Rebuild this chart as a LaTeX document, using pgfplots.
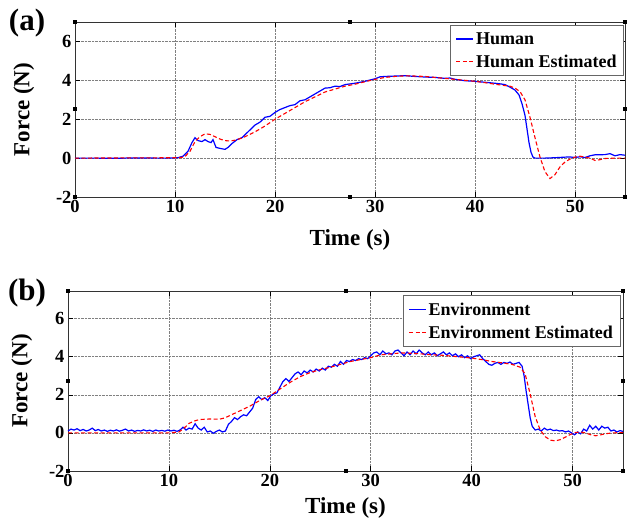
\documentclass[border=0pt]{standalone}
\usepackage{fontspec}
\setmainfont{Liberation Serif}
\usepackage{pgfplots}
\pgfplotsset{compat=1.18}
\pgfplotstableread{
t v
0 0
2 0.0
4 -0.01
6 0.01
8 0
9.5 0
10.3 0.02
10.8 0.1
11.3 0.35
11.7 0.8
12 1.05
12.3 0.9
12.7 0.85
13 0.95
13.3 0.85
13.6 0.8
13.8 0.95
14.1 0.55
14.5 0.5
15 0.45
15.3 0.55
15.7 0.75
16.2 0.95
16.7 1.05
17.2 1.3
17.6 1.5
18 1.7
18.5 1.85
19 2.1
19.5 2.15
20 2.35
20.5 2.5
21 2.6
21.5 2.7
22 2.75
22.5 2.95
23 3.0
23.5 3.15
24 3.3
24.5 3.45
25 3.6
25.5 3.62
26 3.7
26.5 3.68
27 3.78
28 3.85
29 3.95
30 4.08
30.5 4.18
31 4.2
32 4.22
33 4.24
34 4.2
35 4.17
36 4.15
37 4.1
37.5 4.12
38 4.05
39 3.98
40 3.95
41 3.9
42 3.85
42.5 3.82
43 3.78
43.5 3.65
44 3.5
44.4 3.25
44.7 2.8
45 2.2
45.2 1.5
45.4 0.8
45.6 0.3
45.8 0.05
46 0
47 0
48 0.02
49 0.05
49.5 0.06
50 0.03
50.5 0.07
51 0.03
51.5 0.12
52 0.17
53 0.18
53.5 0.23
54 0.12
54.5 0.18
55 0.15
}\human
\pgfplotstableread{
t v
0 0
10.5 0.02
11 0.08
11.5 0.35
12 0.85
12.5 1.1
13 1.25
13.5 1.22
14 1.1
14.5 0.98
15 0.9
15.5 0.88
16 0.92
16.5 1.0
17 1.1
18 1.35
19 1.65
20 2.0
21 2.3
22 2.6
23 2.9
24 3.15
25 3.4
26 3.55
27 3.7
28 3.8
29 3.93
30 4.05
31 4.15
32 4.2
33 4.23
34 4.22
35 4.2
36 4.15
37 4.1
38 4.05
39 4.0
40 3.95
41 3.88
42 3.8
43 3.73
43.5 3.7
44 3.6
44.5 3.42
45 3.0
45.5 2.1
46 1.05
46.5 0.05
47 -0.7
47.5 -1.05
48 -0.85
48.5 -0.45
49 -0.2
49.5 -0.05
50 0.05
50.5 0.1
51 0.05
51.5 0
52 -0.12
52.5 -0.08
53 -0.02
54 0
55 0
}\humanest
\pgfplotstableread{
t v
0 0.1
0.3 0.2
0.6 0.15
0.9 0.22
1.2 0.12
1.5 0.18
1.8 0.1
2.1 0.15
2.4 0.25
2.7 0.12
3 0.18
3.3 0.1
3.6 0.15
3.9 0.08
4.2 0.14
4.5 0.1
4.8 0.16
5.1 0.09
5.4 0.14
5.7 0.2
6 0.1
6.3 0.15
6.6 0.08
6.9 0.13
7.2 0.1
7.5 0.16
7.8 0.1
8.1 0.14
8.4 0.08
8.7 0.15
9 0.1
9.3 0.13
9.6 0.09
9.9 0.15
10.2 0.1
10.5 0.14
10.8 0.08
11.1 0.15
11.4 0.3
11.7 0.15
12 0.25
12.3 0.2
12.6 0.48
12.9 0.25
13.2 0.15
13.5 0.3
13.8 0.05
14.1 0.1
14.4 -0.02
14.7 0.08
15 0.15
15.3 0.05
15.6 0.1
15.9 0.45
16.2 0.6
16.5 0.8
16.8 0.7
17.1 0.85
17.4 0.95
17.7 0.9
18 1.1
18.3 1.3
18.6 1.75
18.9 1.9
19.2 1.75
19.5 1.85
19.8 1.7
20.1 1.95
20.4 2.05
20.7 2.1
21 2.4
21.3 2.7
21.6 2.85
21.9 2.7
22.2 2.9
22.5 3.1
22.8 3.2
23.1 3.05
23.4 3.25
23.7 3.15
24 3.3
24.3 3.2
24.6 3.35
24.9 3.25
25.2 3.4
25.5 3.3
25.8 3.5
26.1 3.45
26.4 3.6
26.7 3.5
27 3.75
27.3 3.6
27.6 3.8
27.9 3.75
28.2 3.85
28.5 3.8
28.8 3.9
29.1 3.85
29.4 3.95
29.7 3.9
30 4.05
30.3 4.2
30.6 4.25
30.9 4.1
31.2 4.3
31.5 4.15
31.8 4.2
32.1 4.1
32.4 4.3
32.7 4.35
33 4.2
33.3 4.05
33.6 4.25
33.9 4.1
34.2 4.3
34.5 4.15
34.8 4.35
35.1 4.2
35.4 4.1
35.7 4.25
36 4.1
36.3 4.2
36.6 4.05
36.9 4.15
37.2 4.25
37.5 4.1
37.8 4.2
38.1 4.05
38.4 4.15
38.7 4.0
39 4.1
39.3 3.95
39.6 4.05
39.9 3.9
40.2 4.0
40.5 4.05
40.8 4.1
41.1 3.9
41.4 3.75
41.7 3.6
42 3.55
42.3 3.65
42.6 3.7
42.9 3.6
43.2 3.7
43.5 3.65
43.8 3.72
44.1 3.6
44.4 3.65
44.7 3.7
45 3.5
45.2 3.0
45.4 2.2
45.6 1.5
45.8 0.8
46 0.35
46.3 0.15
46.6 0.2
46.9 0.1
47.2 0.25
47.5 0.15
47.8 0.2
48.1 0.12
48.4 0.15
48.7 0.1
49 0.12
49.3 0.05
49.6 0.1
49.9 0.0
50.2 -0.1
50.5 0.05
50.8 -0.05
51.1 0.2
51.4 0.1
51.7 0.4
52 0.2
52.3 0.35
52.6 0.15
52.9 0.35
53.2 0.25
53.5 0.3
53.8 0.1
54.1 0.15
54.4 0.05
54.7 0.12
55 0.08
}\env
\pgfplotstableread{
t v
0 0
10 0
11 0.05
11.5 0.25
12 0.5
12.5 0.62
13 0.7
14 0.73
15 0.72
15.5 0.78
16 0.9
17 1.15
18 1.4
19 1.7
20 1.95
21 2.3
22 2.65
23 2.95
24 3.17
25 3.32
26 3.45
27 3.6
28 3.75
29 3.85
30 3.95
31 4.1
32 4.15
33 4.2
34 4.18
35 4.15
36 4.1
37 4.08
38 4.03
39 3.98
40 3.93
41 3.85
42 3.75
43 3.68
44 3.6
44.8 3.45
45.3 3.1
45.8 2.05
46.3 0.85
46.8 0.15
47.3 -0.2
47.8 -0.38
48.3 -0.42
48.8 -0.35
49.3 -0.22
49.8 -0.08
50.3 0.02
50.8 0.05
51.3 0.0
51.8 -0.1
52.3 -0.15
52.8 -0.1
53.3 -0.04
54 0
55 0.02
}\envest
\pgfplotsset{
  mystyle/.style={
    scale only axis, clip=false,
    xmin=0, xmax=55, ymin=-2,
    xtick={0,10,...,50}, ytick={-2,0,...,6},
    grid=major,
    major grid style={densely dotted, black!50, line width=0.6pt},
    tick align=inside, major tick length=5pt,
    tick style={black, line width=0.6pt},
    axis line style={black!80, line width=0.8pt},
    tick label style={font=\fontsize{18.5}{20}\selectfont\bfseries},
    /pgf/number format/assume math mode=true,
    label style={font=\fontsize{23}{26}\selectfont\bfseries},
    legend style={draw=black!60, fill=white, line width=0.7pt,
      font=\fontsize{18}{21}\selectfont\bfseries, anchor=north east,
      inner sep=5pt, row sep=5pt},
    legend cell align=left,
  },
  hum/.style={blue, line width=1.2pt},
  est/.style={red, line width=1.1pt, dash pattern=on 4pt off 2.5pt},
}
\newcommand{\handles}{%
  \fill[black] (rel axis cs:0,0) +(-2pt,-2pt) rectangle +(2pt,2pt);
  \fill[black] (rel axis cs:0,0.5) +(-2pt,-2pt) rectangle +(2pt,2pt);
  \fill[black] (rel axis cs:0,1) +(-2pt,-2pt) rectangle +(2pt,2pt);
  \fill[black] (rel axis cs:0.5,0) +(-2pt,-2pt) rectangle +(2pt,2pt);
  \fill[black] (rel axis cs:0.5,1) +(-2pt,-2pt) rectangle +(2pt,2pt);
  \fill[black] (rel axis cs:1,0) +(-2pt,-2pt) rectangle +(2pt,2pt);
  \fill[black] (rel axis cs:1,0.5) +(-2pt,-2pt) rectangle +(2pt,2pt);
  \fill[black] (rel axis cs:1,1) +(-2pt,-2pt) rectangle +(2pt,2pt);
}
\begin{document}
\begin{tikzpicture}[x=1pt,y=1pt]
\useasboundingbox (0,0) rectangle (629,528);
\begin{axis}[mystyle, at={(75pt,331pt)}, anchor=south west,
  width=550pt, height=175pt, ymax=7,
  xlabel={Time (s)}, ylabel={Force (N)},
  xlabel style={at={(axis description cs:0.5,-0.245)}, anchor=center},
  ylabel style={at={(axis description cs:-0.093,0.5)}, anchor=center},
  legend style={at={(rel axis cs:0.998,0.983)}}]
\addplot[hum] table[x=t,y=v] {\human};
\addlegendentry{Human}
\addplot[est] table[x=t,y=v] {\humanest};
\addlegendentry{Human Estimated}
\handles
\end{axis}
\begin{axis}[mystyle, at={(68pt,57pt)}, anchor=south west,
  width=555pt, height=180pt, ymax=7.45,
  xlabel={Time (s)}, ylabel={Force (N)},
  xlabel style={at={(axis description cs:0.5,-0.205)}, anchor=center},
  ylabel style={at={(axis description cs:-0.083,0.5)}, anchor=center},
  legend style={at={(rel axis cs:0.995,0.975)}}]
\addplot[hum] table[x=t,y=v] {\env};
\addlegendentry{Environment}
\addplot[est] table[x=t,y=v] {\envest};
\addlegendentry{Environment Estimated}
\handles
\end{axis}
\node[font=\fontsize{31}{34}\selectfont\bfseries] at (27,505) {(a)};
\node[font=\fontsize{31}{34}\selectfont\bfseries] at (27,235) {(b)};
\end{tikzpicture}
\end{document}
